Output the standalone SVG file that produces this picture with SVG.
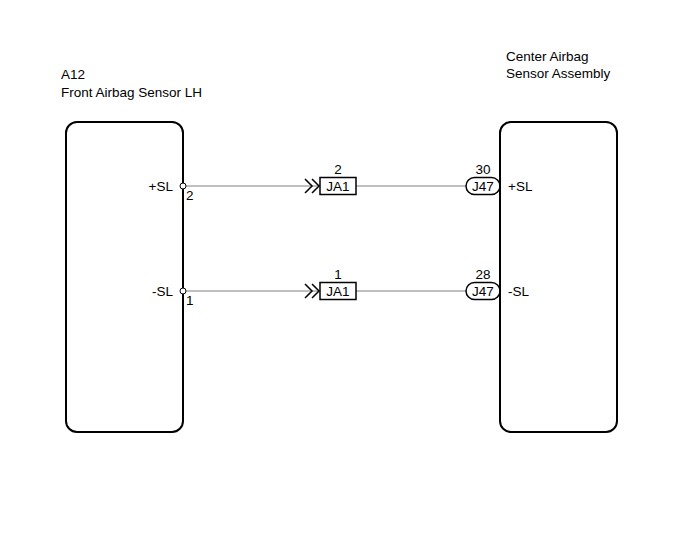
<svg xmlns="http://www.w3.org/2000/svg" width="691" height="555" viewBox="0 0 691 555">
<style>
text{font-family:"Liberation Sans",Arial,sans-serif;font-size:13.5px;fill:#000}
.box{fill:#fff;stroke:#000;stroke-width:2}
.wire{fill:none;stroke:#808080;stroke-width:1}
.conn{fill:#fff;stroke:#000;stroke-width:1.5}
.chev{fill:none;stroke:#000;stroke-width:1.5}
.pin{fill:#fff;stroke:#000;stroke-width:1}
.m{text-anchor:middle}
.e{text-anchor:end}
</style>
<rect width="691" height="555" fill="#fff"/>
<g id="connectors">
<line class="wire" x1="185" y1="186" x2="320" y2="186"/>
<line class="wire" x1="356" y1="186" x2="466" y2="186"/>
<line class="wire" x1="185" y1="291" x2="320" y2="291"/>
<line class="wire" x1="356" y1="291" x2="466" y2="291"/>
</g>
<g id="A12">
<text x="61" y="79">A12</text>
<text x="61" y="97">Front Airbag Sensor LH</text>
<rect class="box" x="66" y="122" width="117" height="310" rx="11"/>
<circle class="pin" cx="183" cy="186" r="3"/>
<circle class="pin" cx="183" cy="291" r="3"/>
<text class="e" x="173" y="191">+SL</text>
<text x="186" y="200">2</text>
<text class="e" x="173" y="296">-SL</text>
<text x="186" y="305">1</text>
</g>
<g id="JA1-2">
<path class="chev" d="M305,179 L312,186 L305,193 M312,179 L319,186 L312,193"/>
<rect class="conn" x="320" y="177.5" width="36" height="17"/>
<text class="m" x="338" y="191">JA1</text>
<text class="m" x="338" y="174">2</text>
</g>
<g id="JA1-1">
<path class="chev" d="M305,284 L312,291 L305,298 M312,284 L319,291 L312,298"/>
<rect class="conn" x="320" y="282.5" width="36" height="17"/>
<text class="m" x="338" y="296">JA1</text>
<text class="m" x="338" y="279">1</text>
</g>
<g id="J47-30">
<rect class="conn" x="466" y="177.5" width="34" height="17" rx="8.5"/>
<text class="m" x="483" y="191">J47</text>
<text class="m" x="483" y="174">30</text>
</g>
<g id="J47-28">
<rect class="conn" x="466" y="282.5" width="34" height="17" rx="8.5"/>
<text class="m" x="483" y="296">J47</text>
<text class="m" x="483" y="279">28</text>
</g>
<g id="CenterAirbag">
<text x="506" y="61">Center Airbag</text>
<text x="506" y="78">Sensor Assembly</text>
<rect class="box" x="500" y="122" width="117" height="310" rx="11"/>
<text x="508" y="191">+SL</text>
<text x="508" y="296">-SL</text>
</g>
</svg>
